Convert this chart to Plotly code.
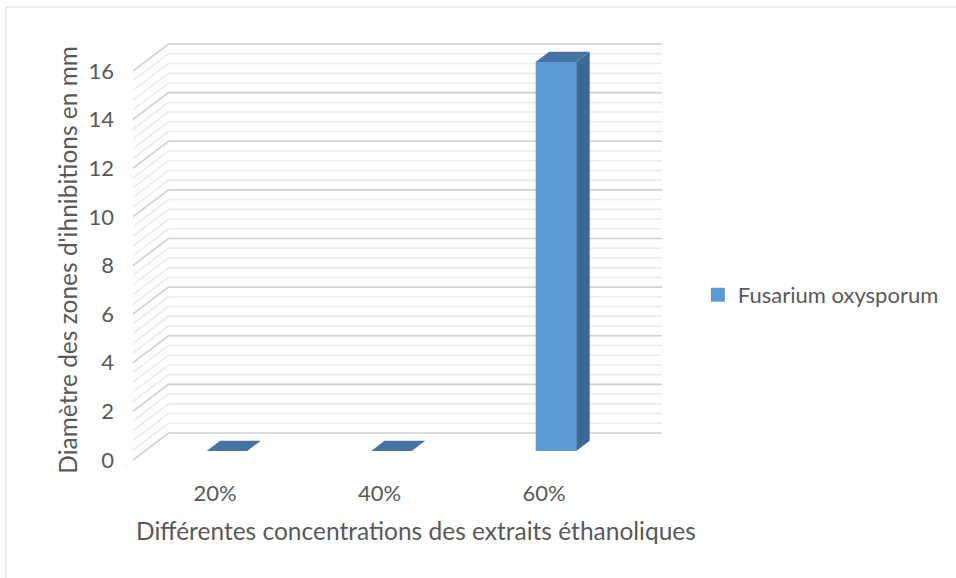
import plotly.graph_objects as go

# ---- data -------------------------------------------------------------
categories = ["20%", "40%", "60%"]
series_name = "Fusarium oxysporum"
values = [0, 0, 16]
y_ticks = [0, 2, 4, 6, 8, 10, 12, 14, 16]
y_title = "Diamètre des zones d'ihnibitions en mm"
x_title = "Différentes concentrations des extraits éthanoliques"

# ---- geometry of the pseudo-3D frame (pixels) --------------------------
W, H = 956, 578
L, R, T, B = 133, 690, 30, 470          # plot area
CAT_PX = 166.3                           # one category step
UNIT_PX = 24.31                          # one value unit
X0_PX = 216                              # front-plane centre of first category
Y0_PX = 460                              # front-plane value 0

x_range = [(L - X0_PX) / CAT_PX, (R - X0_PX) / CAT_PX]
y_range = [(Y0_PX - B) / UNIT_PX, (Y0_PX - T) / UNIT_PX]

DX = 36 / CAT_PX        # depth offset (front -> back wall), x units
DY = 27 / UNIT_PX       # depth offset, y units
D_FRONT, D_BACK = 0.333, 0.71
BAR_W = 41 / CAT_PX

FRONT = "#5B9BD5"
SIDE = "#3D6A94"
TOP = "#4574A3"
TEXT = "#595959"
FONT = "Lato"
TICK_SIZE = 22
TITLE_SIZE = 24.5

fig = go.Figure()

# ---- back wall + side wall gridlines ----------------------------------
x_left = -0.5
x_right = len(categories) - 0.5
grid_levels = [round(k * 0.4, 1) for k in range(int(max(y_ticks) / 0.4) + 1)]


def wall_lines(levels):
    xs, ys = [], []
    for v in levels:
        xs += [x_left, x_left + DX, x_right + DX, None]
        ys += [v, v + DY, v + DY, None]
    return xs, ys


minor = [v for v in grid_levels if abs(v / 2 - round(v / 2)) > 1e-6]
major = [v for v in grid_levels if abs(v / 2 - round(v / 2)) <= 1e-6]

mx, my = wall_lines(minor)
fig.add_trace(go.Scatter(x=mx, y=my, mode="lines", line=dict(color="#EBEBEB", width=1.5),
                         hoverinfo="skip", showlegend=False))
Mx, My = wall_lines(major)
fig.add_trace(go.Scatter(x=Mx, y=My, mode="lines", line=dict(color="#D0D0D0", width=1.6),
                         hoverinfo="skip", showlegend=False))

# ---- 3D columns -------------------------------------------------------
for i, v in enumerate(values):
    xl = i - BAR_W / 2
    xr = i + BAR_W / 2
    fx, fy = D_FRONT * DX, D_FRONT * DY
    bx, by = D_BACK * DX, D_BACK * DY
    faces = [
        # front face
        ([xl + fx, xr + fx, xr + fx, xl + fx, xl + fx],
         [fy, fy, v + fy, v + fy, fy], FRONT),
        # right side face
        ([xr + fx, xr + bx, xr + bx, xr + fx, xr + fx],
         [fy, by, v + by, v + fy, fy], SIDE),
        # top face
        ([xl + fx, xr + fx, xr + bx, xl + bx, xl + fx],
         [v + fy, v + fy, v + by, v + by, v + fy], TOP),
    ]
    for px, py, col in faces:
        fig.add_trace(go.Scatter(x=px, y=py, mode="lines", fill="toself",
                                 fillcolor=col, line=dict(width=0, color=col),
                                 hoverinfo="skip", showlegend=False))

# legend entry
fig.add_trace(go.Scatter(x=[None], y=[None], mode="markers", name=series_name,
                         marker=dict(symbol="square", size=14, color=FRONT)))


def paper_x(px):
    return (px - L) / (R - L)


def paper_y(py):
    return (B - py) / (B - T)


# chart-area border
fig.add_shape(type="rect", xref="paper", yref="paper",
              x0=paper_x(4.5), x1=paper_x(W + 20), y0=paper_y(H + 20), y1=paper_y(7),
              line=dict(color="#D9D9D9", width=1), fillcolor="rgba(0,0,0,0)")

# axis titles
fig.add_annotation(text=y_title, xref="paper", yref="paper", x=paper_x(66), y=paper_y(260),
                   textangle=-90, showarrow=False, xanchor="center", yanchor="middle",
                   font=dict(family=FONT, size=TITLE_SIZE, color=TEXT))
fig.add_annotation(text=x_title, xref="paper", yref="paper", x=paper_x(419), y=paper_y(530),
                   showarrow=False, xanchor="center", yanchor="middle",
                   font=dict(family=FONT, size=TITLE_SIZE, color=TEXT))

fig.update_layout(
    width=W, height=H,
    margin=dict(l=L, r=W - R, t=T, b=H - B),
    paper_bgcolor="white", plot_bgcolor="white",
    font=dict(family=FONT, size=TICK_SIZE, color=TEXT),
    showlegend=True,
    legend=dict(x=paper_x(704), y=paper_y(295), xanchor="left", yanchor="middle",
                font=dict(family=FONT, size=TICK_SIZE, color=TEXT), bgcolor="rgba(0,0,0,0)"),
    xaxis=dict(range=x_range, tickmode="array", tickvals=list(range(len(categories))),
               ticktext=categories, showgrid=False, zeroline=False, showline=False,
               ticks="", ticklabelstandoff=8, fixedrange=True),
    yaxis=dict(range=y_range, tickmode="array", tickvals=y_ticks,
               ticktext=[str(t) for t in y_ticks], showgrid=False, zeroline=False,
               showline=False, ticks="", ticklabelstandoff=18, fixedrange=True),
)

fig.write_html("out.html")
